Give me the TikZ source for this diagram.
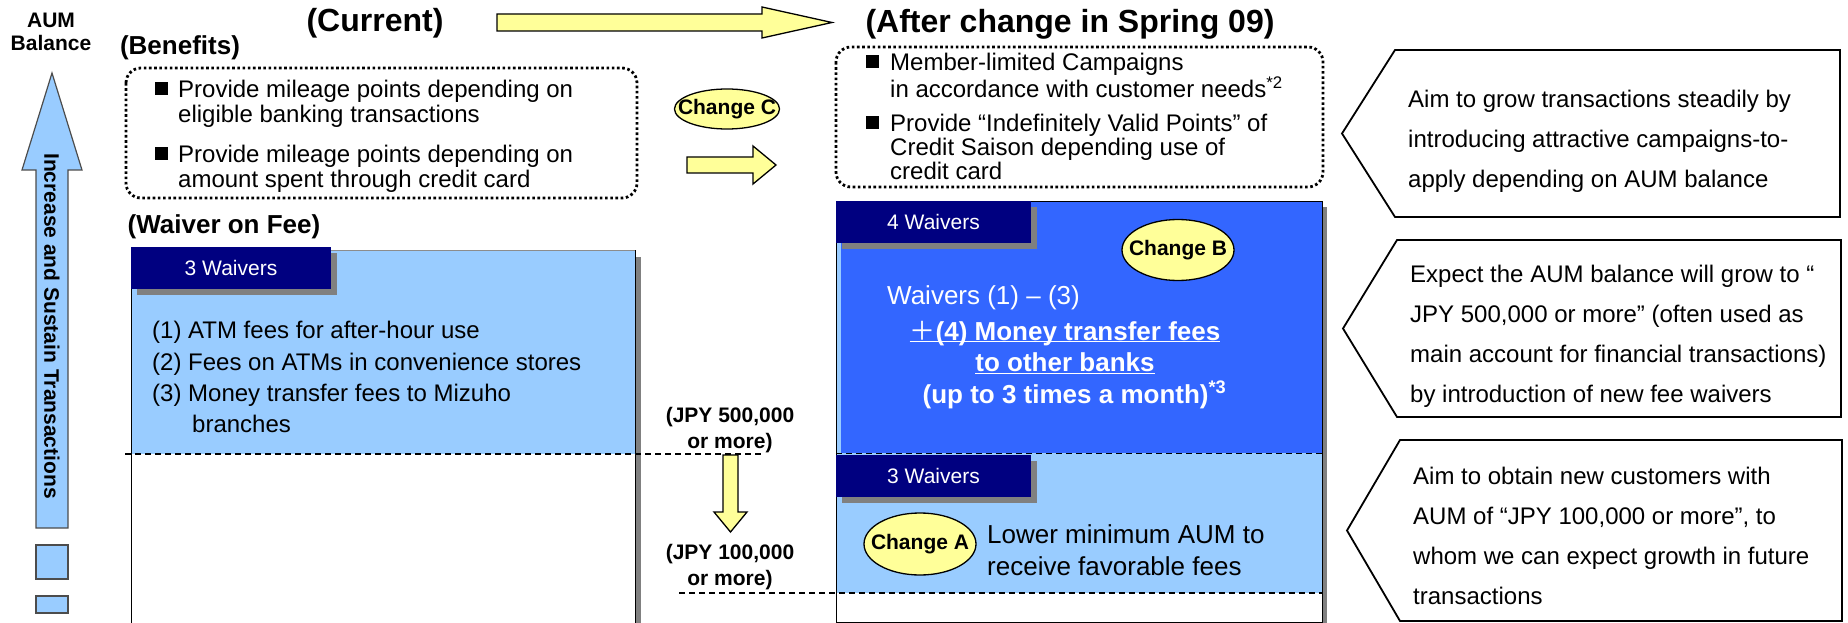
\documentclass[tikz,border=0pt]{standalone}
\usepackage{fontspec}
\setmainfont{Liberation Sans}
\newfontfamily\cjkfont{Noto Sans CJK JP}
\usepackage{tikz}
\usetikzlibrary{shapes.geometric, shadows, positioning}

\definecolor{navybox}{HTML}{000080}
\definecolor{lightpanel}{HTML}{99CCFF}
\definecolor{brightpanel}{HTML}{3366FF}
\definecolor{changeyellow}{HTML}{FFFF99}
\definecolor{shadowgray}{HTML}{808080}

% underline that ignores descenders
\newcommand{\baseline}[1]{\underline{\raisebox{0pt}[\height][0pt]{#1}}}

\begin{document}
\begin{tikzpicture}[
    x=1pt, y=-1pt,
    title/.style={font=\fontsize{32}{38}\selectfont\bfseries, inner sep=0},
    heading/.style={font=\fontsize{26}{31}\selectfont\bfseries, inner sep=0},
    bodytext/.style={font=\fontsize{24}{25}\selectfont, align=left, anchor=north west, inner sep=0},
    bullet/.style={rectangle, fill=black, minimum width=13, minimum height=13, inner sep=0},
    waiverbox/.style={rectangle, fill=navybox, text=white, font=\fontsize{21}{25}\selectfont, minimum width=195, minimum height=42, inner sep=0, drop shadow={shadow xshift=6pt, shadow yshift=-6pt, fill=shadowgray, opacity=1}},
    changeoval/.style={ellipse, draw, line width=1.3, fill=changeyellow, inner sep=0},
    changetext/.style={font=\fontsize{21}{25}\selectfont\bfseries, inner sep=0},
    threshold/.style={font=\fontsize{21}{26}\selectfont\bfseries, align=center, inner sep=0},
    blockarrow/.style={draw=black, line width=1.3, fill=changeyellow},
    limit/.style={dash pattern=on 6pt off 4pt, line width=1.3},
    benefitbox/.style={draw, line width=2.8, dash pattern=on 2.6pt off 2.6pt, rounded corners=15},
    aimbox/.style={draw, line width=1.8, fill=white},
    aimtext/.style={font=\fontsize{24}{39.7}\selectfont, align=left, anchor=north west, inner sep=0}
]
\useasboundingbox (0,0) rectangle (1848,623);

% Left scale arrow
\draw[fill=lightpanel, draw=black!70, line width=1.2] (52,73) -- (82,170) -- (68,170) -- (68,528) -- (36,528) -- (36,170) -- (22,170) -- cycle;
\draw[fill=lightpanel, draw=black!70, line width=1.2] (36,545) rectangle (68,579);
\draw[fill=lightpanel, draw=black!70, line width=1.2] (36,596) rectangle (68,613);
\node (aum) [font=\fontsize{21}{23}\selectfont\bfseries, align=center, inner sep=0] at (51,31.5) {AUM\\Balance};
\node (increase) [rotate=-90, font=\fontsize{21}{25}\selectfont\bfseries, inner sep=0] at (52,326) {Increase and Sustain Transactions};

% Titles
\node (current) [title] at (375,23.5) {(Current)};
\node (after) [title] at (1070,24) {(After change in Spring 09)};
\draw[blockarrow] (497,14) -- (762,14) -- (762,7) -- (832,22.5) -- (762,38) -- (762,31) -- (497,31) -- cycle;

% Benefits
\node (benefits) [heading] at (180,48) {(Benefits)};
\draw[benefitbox] (126,68) rectangle (637,198);
\node (bulletA) [bullet] at (161,89) {};
\node (mileageA) [bodytext] at (178,80.4) {Provide mileage points depending on\\eligible banking transactions};
\node (bulletB) [bullet] at (161,154) {};
\node (mileageB) [bodytext] at (178,145.4) {Provide mileage points depending on\\amount spent through credit card};

\draw[benefitbox] (836,47) rectangle (1323,187);
\node (bulletC) [bullet] at (872,62) {};
\node (campaigns) [bodytext, font=\fontsize{24}{26.5}\selectfont] at (890,53.4) {Member-limited Campaigns\\in accordance with customer needs\textsuperscript{*2}};
\node (bulletD) [bullet] at (872,123) {};
\node (saison) [bodytext, font=\fontsize{24}{24}\selectfont] at (890,114.4) {Provide “Indefinitely Valid Points” of\\Credit Saison depending use of\\credit card};

\node (changeC) [changeoval, minimum width=105, minimum height=40] at (727,109) {};
\node (changeCtext) [changetext] at (changeC) {Change C};
\draw[blockarrow] (687,157) -- (753,157) -- (753,146) -- (776,165) -- (753,184) -- (753,173) -- (687,173) -- cycle;

% Current waivers
\node (waiverfee) [heading] at (224,227) {(Waiver on Fee)};
\fill[shadowgray] (137,257) rectangle (641,640);
\fill[white] (131,250) rectangle (635,640);
\fill[lightpanel] (131,250) rectangle (635,454);
\draw[black!45] (131,250) -- (635,250);
\draw (131,250) -- (131,640);
\draw (635,250) -- (635,640);
\node (curwaivers) [waiverbox, minimum width=200] at (231,268) {3 Waivers};
\node (curlist) [bodytext, font=\fontsize{24}{31.3}\selectfont] at (152,321.4) {(1) ATM fees for after-hour use\\(2) Fees on ATMs in convenience stores\\(3) Money transfer fees to Mizuho\\\hspace*{40pt}branches};

% Thresholds
\node (high) [threshold] at (730,430) {(JPY 500,000\\or more)};
\node (low) [threshold] at (730,567.5) {(JPY 100,000\\or more)};
\draw[limit] (125,454) -- (764,454);
\draw[blockarrow] (723,455) -- (738,455) -- (738,512) -- (747,512) -- (730.5,532) -- (714,512) -- (723,512) -- cycle;

% New waivers
\fill[shadowgray] (842,207) rectangle (1327,640);
\fill[white] (836,201) rectangle (1322,622);
\fill[lightpanel] (836,201) rectangle (1322,593);
\fill[brightpanel] (841,201) rectangle (1322,453);
\draw (836,201) rectangle (1322,622);
\draw[limit] (836,453.5) -- (1322,453.5);
\draw[limit] (679,593) -- (1322,593);
\node (newwaivers) [waiverbox] at (933.5,222) {4 Waivers};
\node (basewaivers) [waiverbox] at (933.5,476) {3 Waivers};
\node (changeB) [changeoval, minimum width=112, minimum height=61] at (1178,250) {};
\node (changeBtext) [changetext] at (changeB) {Change B};
\node (waivers13) [anchor=west, text=white, font=\fontsize{26}{31}\selectfont, inner sep=0] at (887,298) {Waivers (1) – (3)};
\node (transfer) [anchor=north, align=center, text=white, font=\fontsize{26}{31.5}\selectfont\bfseries, inner sep=0] at (1065,320.6) {\baseline{{\cjkfont\mdseries ＋}(4) Money transfer fees}\\\baseline{to other banks}\\\hspace*{19pt}(up to 3 times a month)\textsuperscript{*3}};
\node (changeA) [changeoval, minimum width=112, minimum height=62] at (920,544) {};
\node (changeAtext) [changetext] at (changeA) {Change A};
\node (lower) [bodytext, font=\fontsize{26}{32}\selectfont] at (987,524.6) {Lower minimum AUM to\\receive favorable fees};

% Aims
\draw[aimbox] (1395,50) -- (1840,50) -- (1840,217) -- (1395,217) -- (1342,133.5) -- cycle;
\node (aimgrow) [aimtext] at (1408,90.4) {Aim to grow transactions steadily by\\introducing attractive campaigns-to-\\apply depending on AUM balance};
\draw[aimbox] (1397,240) -- (1841,240) -- (1841,417) -- (1397,417) -- (1343,328.5) -- cycle;
\node (expect) [aimtext] at (1410,265.4) {Expect the AUM balance will grow to “\\JPY 500,000 or more” (often used as\\main account for financial transactions)\\by introduction of new fee waivers};
\draw[aimbox] (1400,440) -- (1842,440) -- (1842,621) -- (1400,621) -- (1347,530.5) -- cycle;
\node (aimobtain) [aimtext] at (1413,467.4) {Aim to obtain new customers with\\AUM of “JPY 100,000 or more”, to\\whom we can expect growth in future\\transactions};

\end{tikzpicture}
\end{document}
